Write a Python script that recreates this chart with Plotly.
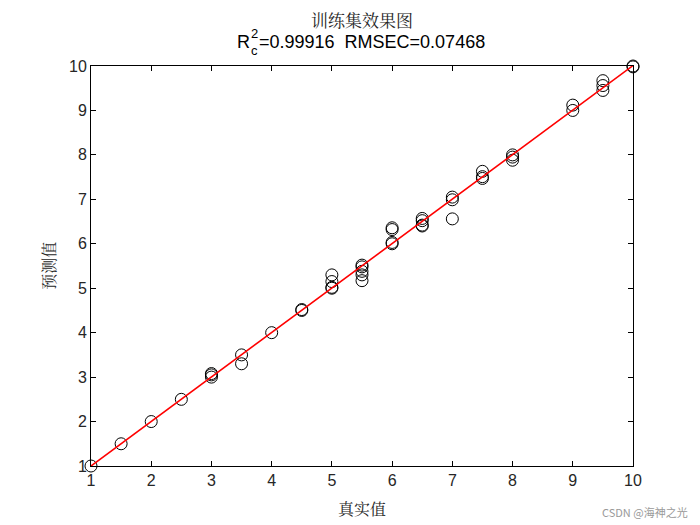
import numpy as np
import plotly.graph_objects as go

# True values and predicted values (training set)
true_vals = [1, 1.5, 2, 2.5, 3, 3, 3, 3.5, 3.5, 4, 4.5, 4.5,
             5, 5, 5, 5, 5.5, 5.5, 5.5, 5.5, 5.5,
             6, 6, 6, 6, 6.5, 6.5, 6.5, 6.5, 7, 7, 7,
             7.5, 7.5, 7.5, 8, 8, 8, 9, 9, 9.5, 9.5, 9.5, 10, 10]
pred_vals = [1.0, 1.5, 2.0, 2.5, 3.0, 3.05, 3.08, 3.5, 3.3, 4.0, 4.5, 4.52,
             5.3, 5.15, 5.02, 5.0, 5.52, 5.48, 5.38, 5.3, 5.17,
             6.36, 6.32, 6.03, 6.0, 6.57, 6.52, 6.42, 6.4, 7.05, 6.99, 6.56,
             7.63, 7.51, 7.47, 8.0, 7.95, 7.88, 9.12, 9.0, 9.67, 9.56, 9.45, 10.0, 9.98]
tick_vals = [1, 2, 3, 4, 5, 6, 7, 8, 9, 10]

title_text = "训练集效果图"
metric_text = "=0.99916  RMSEC=0.07468"
x_label = "真实值"
y_label = "预测值"
watermark = "CSDN @海神之光"

# Fit line
coef = np.polyfit(true_vals, pred_vals, 1)
fit_x = [min(true_vals), max(true_vals)]
fit_y = [coef[0] * v + coef[1] for v in fit_x]

fig = go.Figure()
fig.add_trace(go.Scatter(
    x=true_vals, y=pred_vals, mode="markers",
    marker=dict(symbol="circle-open", size=12, color="black", line=dict(width=1, color="black")),
    cliponaxis=False, showlegend=False))
fig.add_trace(go.Scatter(
    x=fit_x, y=fit_y, mode="lines",
    line=dict(color="red", width=1.6), showlegend=False, cliponaxis=False))

axis_common = dict(
    range=[1, 10], tickvals=tick_vals, ticks="inside", ticklen=5, tickwidth=1,
    tickcolor="black", showline=True, linecolor="black", linewidth=1, mirror="ticks",
    showgrid=False, zeroline=False,
    tickfont=dict(family="Liberation Sans, Arial", size=16, color="#262626"))

fig.update_layout(
    width=692, height=517,
    paper_bgcolor="white", plot_bgcolor="white",
    margin=dict(l=83, r=67, t=58, b=59),
    xaxis=dict(**axis_common),
    yaxis=dict(**axis_common),
    annotations=[
        dict(text=title_text, xref="paper", yref="paper", x=0.5, y=1.117, xanchor="center",
             yanchor="middle", showarrow=False, borderpad=0,
             font=dict(family="Noto Serif CJK SC, Noto Sans CJK SC", size=17, color="#262626")),
        dict(text="R", xref="paper", yref="paper", x=0.5, xshift=-110, y=1.06, xanchor="right",
             yanchor="middle", showarrow=False,
             font=dict(family="Liberation Sans, Arial", size=18, color="black")),
        dict(text="2", xref="paper", yref="paper", x=0.5, xshift=-113, y=1.06, yshift=8,
             xanchor="left", yanchor="middle", showarrow=False,
             font=dict(family="Liberation Sans, Arial", size=13, color="black")),
        dict(text="c", xref="paper", yref="paper", x=0.5, xshift=-113, y=1.06, yshift=-9,
             xanchor="left", yanchor="middle", showarrow=False,
             font=dict(family="Liberation Sans, Arial", size=13, color="black")),
        dict(text=metric_text, xref="paper", yref="paper", x=0.5, xshift=-105, y=1.06,
             xanchor="left", yanchor="middle", showarrow=False,
             font=dict(family="Liberation Sans, Arial", size=18, color="black")),
        dict(text=x_label, xref="paper", yref="paper", x=0.5, y=-0.105, xanchor="center",
             yanchor="middle", showarrow=False,
             font=dict(family="Noto Serif CJK SC, Noto Sans CJK SC", size=16, color="#262626")),
        dict(text=y_label, xref="paper", yref="paper", x=-0.08, y=0.5, xanchor="center",
             yanchor="middle", showarrow=False, textangle=-90,
             font=dict(family="Noto Serif CJK SC, Noto Sans CJK SC", size=16, color="#262626")),
        dict(text=watermark, xref="paper", yref="paper", x=1.105, y=-0.115, xanchor="right",
             yanchor="middle", showarrow=False,
             font=dict(family="Noto Sans CJK SC", size=11, color="#999999")),
    ],
)

fig.write_html("out.html")
